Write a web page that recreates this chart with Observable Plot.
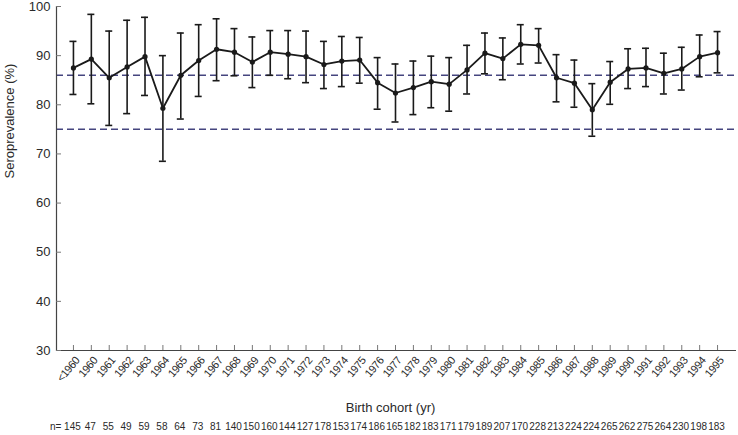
<!DOCTYPE html>
<html>
<head>
<meta charset="utf-8">
<script src="https://cdn.jsdelivr.net/npm/d3@7"></script>
<script src="https://cdn.jsdelivr.net/npm/@observablehq/plot@0.6"></script>
<style>
  html, body { margin: 0; padding: 0; background: #ffffff; }
  #chart svg { display: block; }
  g[aria-label="n-row"] text { letter-spacing: -0.75px; }
  g[aria-label="x-axis tick label"] text { letter-spacing: -0.5px; }
</style>
</head>
<body>
<div id="chart"></div>
<script>
const categories = ["<1960","1960","1961","1962","1963","1964","1965","1966","1967","1968","1969","1970","1971","1972","1973","1974","1975","1976","1977","1978","1979","1980","1981","1982","1983","1984","1985","1986","1987","1988","1989","1990","1991","1992","1993","1994","1995"];
const seroprevalence = [87.5,89.3,85.5,87.7,89.8,79.3,86.0,89.0,91.3,90.7,88.7,90.7,90.3,89.8,88.2,88.9,89.1,84.5,82.4,83.5,84.7,84.2,87.1,90.5,89.4,92.3,92.1,85.5,84.4,79.0,84.6,87.3,87.5,86.4,87.3,89.8,90.6];
const ciLower = [82.1,80.2,75.8,78.2,81.9,68.5,77.1,81.7,84.9,85.9,83.5,86.0,85.3,84.5,83.3,83.7,84.4,79.1,76.5,78.0,79.4,78.7,82.2,86.3,85.1,88.3,88.5,80.6,79.5,73.6,80.1,83.3,83.7,82.2,83.0,85.7,86.5];
const ciUpper = [92.9,98.4,95.0,97.2,97.8,90.0,94.6,96.3,97.5,95.5,93.8,95.1,95.1,95.0,92.9,93.9,93.7,89.6,88.3,88.9,89.9,89.6,92.1,94.6,93.6,96.3,95.5,90.2,89.1,84.3,88.8,91.4,91.5,90.5,91.7,94.2,94.9];
const nValues = [145,47,55,49,59,58,64,73,81,140,150,160,144,127,178,153,174,186,165,182,183,171,179,189,207,170,228,213,224,224,265,262,275,264,230,198,183];
const thresholds = [86, 75];
const yTicks = [30,40,50,60,70,80,90,100];

const data = categories.map((c, i) => ({cohort: c, value: seroprevalence[i], lo: ciLower[i], hi: ciUpper[i], n: nValues[i]}));

const W = 738, H = 435, ML = 56, MR = 2, MT = 6, MB = 85;
const frameW = W - ML - MR, frameH = H - MT - MB;
const ink = "#1a1a1a", axisInk = "#444", textInk = "#2a2a2a";
const font = "'Liberation Sans', Arial, sans-serif";

const chart = Plot.plot({
  width: W, height: H,
  marginTop: MT, marginLeft: ML, marginRight: MR, marginBottom: MB,
  style: {fontFamily: font, background: "#ffffff", color: textInk},
  x: {type: "point", domain: categories, range: [64, 726]},
  y: {domain: [30, 100]},
  marks: [
    Plot.ruleY(thresholds, {stroke: "#45457f", strokeWidth: 1.5, strokeDasharray: "7,4"}),
    Plot.ruleY([30], {stroke: axisInk, strokeWidth: 1.2}),
    Plot.frame({anchor: "left", stroke: axisInk, strokeWidth: 1.2}),
    Plot.ruleX(categories, {x: d => d, insetTop: frameH - 5, stroke: "#777", strokeWidth: 1}),
    Plot.ruleY(yTicks, {y: d => d, insetRight: frameW - 5, stroke: "#777", strokeWidth: 1}),
    Plot.ruleX(data, {x: "cohort", y1: "lo", y2: "hi", stroke: ink, strokeWidth: 1.6}),
    Plot.ruleY(data, {y: "hi", x1: "cohort", x2: "cohort", insetLeft: -3.5, insetRight: -3.5, stroke: ink, strokeWidth: 1.6}),
    Plot.ruleY(data, {y: "lo", x1: "cohort", x2: "cohort", insetLeft: -3.5, insetRight: -3.5, stroke: ink, strokeWidth: 1.6}),
    Plot.line(data, {x: "cohort", y: "value", stroke: ink, strokeWidth: 1.8}),
    Plot.dot(data, {x: "cohort", y: "value", r: 2.6, fill: ink, stroke: null}),
    Plot.axisY({ticks: yTicks, tickSize: 0, tickPadding: 6, fontSize: 13, label: null, fill: textInk}),
    Plot.axisX({tickSize: 0, tickRotate: -50, tickPadding: 5, dx: 4, dy: 3, fontSize: 11, label: null, fill: textInk}),
    Plot.text(["Birth cohort (yr)"], {frameAnchor: "bottom", dy: 61, dx: -6, fontSize: 13, fill: textInk}),
    Plot.text(["Seroprevalence (%)"], {frameAnchor: "left", rotate: -90, dx: -47, fontSize: 13, fill: textInk}),
    Plot.text(data, {x: "cohort", text: "n", frameAnchor: "bottom", dy: 79, dx: -1, fontSize: 10, fill: textInk, ariaLabel: "n-row"}),
    Plot.text(["n="], {x: [categories[0]], frameAnchor: "bottom", dy: 79, dx: -12, textAnchor: "end", fontSize: 10, fill: textInk, ariaLabel: "n-row"})
  ]
});
document.getElementById("chart").appendChild(chart);
</script>
</body>
</html>
